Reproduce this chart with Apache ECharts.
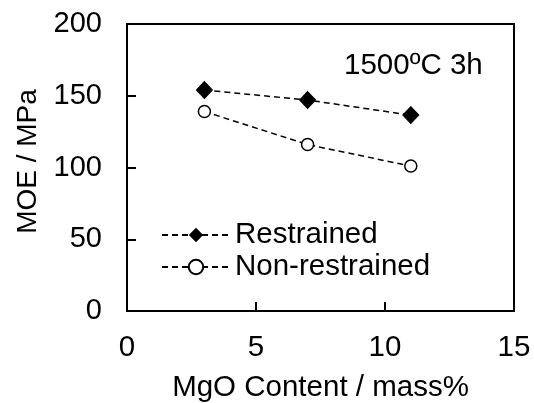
<!DOCTYPE html>
<html>
<head>
<meta charset="utf-8">
<script src="https://cdn.jsdelivr.net/npm/echarts@6/dist/echarts.min.js"></script>
<style>html,body{margin:0;padding:0;background:#fff;}#c{width:534px;height:403px;}</style>
</head>
<body>
<div id="c"></div>
<script>
const mgo = [3, 7, 11];
const restrained = [154, 147, 136.5];
const nonRestrained = [139, 116, 101];
const seriesNames = ['Restrained', 'Non-restrained'];
const xTicks = [0, 5, 10, 15];
const yTicks = [0, 50, 100, 150, 200];
const xTitle = 'MgO Content / mass%';
const yTitle = 'MOE / MPa';
const note = '1500ºC 3h';

const font = '"Liberation Sans", Arial, sans-serif';
const chart = echarts.init(document.getElementById('c'), null, {renderer: 'canvas'});
const pairs = (xs, ys) => xs.map((x, i) => [x, ys[i]]);
chart.setOption({
  animation: false,
  backgroundColor: '#fff',
  grid: {left: 127, right: 20, top: 24, bottom: 92, show: true, borderColor: '#000', borderWidth: 2,
         containLabel: false, outerBoundsMode: 'none'},
  xAxis: {
    type: 'value', min: xTicks[0], max: xTicks[xTicks.length - 1], interval: 5,
    name: xTitle, nameLocation: 'middle', nameGap: 62,
    nameTextStyle: {fontFamily: font, fontSize: 29.5, color: '#000'},
    axisLine: {show: true, onZero: false, lineStyle: {color: '#000', width: 2}},
    axisTick: {show: true, inside: true, length: 9, lineStyle: {color: '#000', width: 2}},
    axisLabel: {fontFamily: font, fontSize: 29.5, color: '#000', margin: 22},
    splitLine: {show: false}
  },
  yAxis: {
    type: 'value', min: yTicks[0], max: yTicks[yTicks.length - 1], interval: 50,
    name: yTitle, nameLocation: 'middle', nameGap: 73, nameRotate: 90,
    nameTextStyle: {fontFamily: font, fontSize: 28, color: '#000', padding: [0, 0, 0, 12]},
    axisLine: {show: true, onZero: false, lineStyle: {color: '#000', width: 2}},
    axisTick: {show: true, inside: true, length: 9, lineStyle: {color: '#000', width: 2}},
    axisLabel: {fontFamily: font, fontSize: 29, color: '#000', margin: 25},
    splitLine: {show: false}
  },
  legend: {
    orient: 'vertical', left: 156, top: 215, itemWidth: 68, itemHeight: 18, itemGap: 2,
    textStyle: {fontFamily: font, fontSize: 29.5, color: '#000', padding: [0, 0, 0, 0]},
    data: seriesNames
  },
  graphic: [{
    type: 'text', left: 344, top: 51,
    style: {text: note, fontFamily: font, fontSize: 29.5, fill: '#000'}
  }],
  series: [
    {
      name: seriesNames[0], type: 'line', data: pairs(mgo, restrained),
      symbol: 'diamond', symbolSize: [16, 17],
      itemStyle: {color: '#000', borderColor: '#000'},
      lineStyle: {color: '#000', width: 1.5, type: [6, 4]}
    },
    {
      name: seriesNames[1], type: 'line', data: pairs(mgo, nonRestrained),
      symbol: 'circle', symbolSize: 12,
      itemStyle: {color: '#fff', borderColor: '#000', borderWidth: 1.5},
      lineStyle: {color: '#000', width: 1.5, type: [6, 4]}
    }
  ]
});
</script>
</body>
</html>
